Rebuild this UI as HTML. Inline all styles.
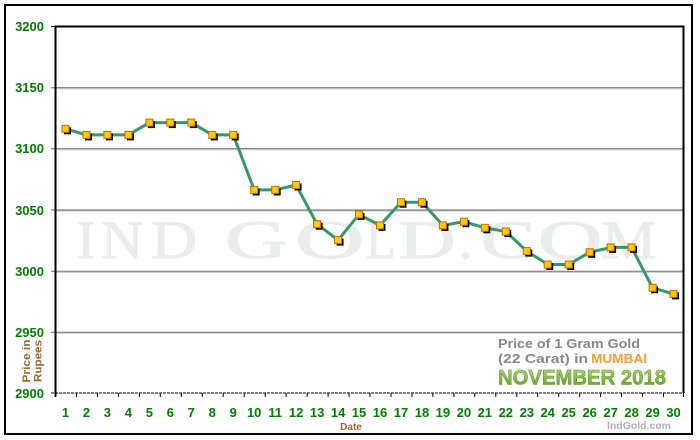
<!DOCTYPE html>
<html><head><meta charset="utf-8"><style>
html,body{margin:0;padding:0;background:#fff;}
svg{display:block;}
text{font-family:"Liberation Sans",Arial,sans-serif;}
.wm text{font-family:"Liberation Serif","Times New Roman",serif;}
</style></head><body>
<svg width="700" height="440" viewBox="0 0 700 440" xmlns="http://www.w3.org/2000/svg">
<defs>
<linearGradient id="gg" x1="0" y1="0" x2="0" y2="1">
<stop offset="0" stop-color="#b5dc78"/>
<stop offset="0.5" stop-color="#86bb45"/>
<stop offset="1" stop-color="#5e9a2a"/>
</linearGradient>
</defs>
<rect x="0" y="0" width="700" height="440" fill="#fff"/>
<rect x="5" y="5" width="687" height="429" fill="#fff" stroke="#000" stroke-width="2"/>

<!-- watermark -->
<g class="wm" fill="#e9ede9" stroke="#e9ede9" stroke-width="1" font-size="54">
<text transform="translate(77,258) scale(1,1)">I</text>
<text transform="translate(101,258) scale(1.08,1)">N</text>
<text transform="translate(151,258) scale(1.18,1)">D</text>
<text transform="translate(225,258) scale(1.6,1)">G</text>
<text transform="translate(295,258) scale(1.78,1)">O</text>
<text transform="translate(366,258) scale(0.9,1)">L</text>
<text transform="translate(399,258) scale(1.45,1)">D</text>
<text transform="translate(459,258) scale(1,1)">.</text>
<text transform="translate(481,258) scale(1.5,1)">C</text>
<text transform="translate(538,258) scale(1.65,1)">O</text>
<text transform="translate(602,258) scale(1.13,1)">M</text>
</g>

<!-- gridlines -->
<g>
<line x1="51" y1="87.7" x2="684" y2="87.7" stroke="#666" stroke-width="1"/>
<line x1="55" y1="88.7" x2="684" y2="88.7" stroke="#c4c4c4" stroke-width="1"/>
<line x1="51" y1="148.8" x2="684" y2="148.8" stroke="#666" stroke-width="1"/>
<line x1="55" y1="149.8" x2="684" y2="149.8" stroke="#c4c4c4" stroke-width="1"/>
<line x1="51" y1="210" x2="684" y2="210" stroke="#666" stroke-width="1"/>
<line x1="55" y1="211" x2="684" y2="211" stroke="#c4c4c4" stroke-width="1"/>
<line x1="51" y1="271.2" x2="684" y2="271.2" stroke="#666" stroke-width="1"/>
<line x1="55" y1="272.2" x2="684" y2="272.2" stroke="#c4c4c4" stroke-width="1"/>
<line x1="51" y1="332.3" x2="684" y2="332.3" stroke="#666" stroke-width="1"/>
<line x1="55" y1="333.3" x2="684" y2="333.3" stroke="#c4c4c4" stroke-width="1"/>
<line x1="51" y1="393" x2="684" y2="393" stroke="#000" stroke-width="1" stroke-dasharray="3,1"/>
<line x1="51" y1="26.5" x2="55" y2="26.5" stroke="#000" stroke-width="1"/>
</g>
<!-- frame -->
<line x1="55" y1="26.5" x2="684" y2="26.5" stroke="#000" stroke-width="2"/>
<line x1="55.5" y1="25.5" x2="55.5" y2="397" stroke="#000" stroke-width="2"/>
<line x1="683.5" y1="25.5" x2="683.5" y2="393" stroke="#000" stroke-width="2"/>

<!-- x ticks -->
<g stroke="#000" stroke-width="1">
<line x1="76.5" y1="393" x2="76.5" y2="397"/><line x1="97.4" y1="393" x2="97.4" y2="397"/><line x1="118.4" y1="393" x2="118.4" y2="397"/><line x1="139.4" y1="393" x2="139.4" y2="397"/><line x1="160.3" y1="393" x2="160.3" y2="397"/><line x1="181.3" y1="393" x2="181.3" y2="397"/><line x1="202.3" y1="393" x2="202.3" y2="397"/><line x1="223.2" y1="393" x2="223.2" y2="397"/><line x1="244.2" y1="393" x2="244.2" y2="397"/><line x1="265.2" y1="393" x2="265.2" y2="397"/><line x1="286.1" y1="393" x2="286.1" y2="397"/><line x1="307.1" y1="393" x2="307.1" y2="397"/><line x1="328.1" y1="393" x2="328.1" y2="397"/><line x1="349" y1="393" x2="349" y2="397"/><line x1="370" y1="393" x2="370" y2="397"/><line x1="391" y1="393" x2="391" y2="397"/><line x1="412" y1="393" x2="412" y2="397"/><line x1="432.9" y1="393" x2="432.9" y2="397"/><line x1="453.9" y1="393" x2="453.9" y2="397"/><line x1="474.8" y1="393" x2="474.8" y2="397"/><line x1="495.8" y1="393" x2="495.8" y2="397"/><line x1="516.8" y1="393" x2="516.8" y2="397"/><line x1="537.7" y1="393" x2="537.7" y2="397"/><line x1="558.7" y1="393" x2="558.7" y2="397"/><line x1="579.7" y1="393" x2="579.7" y2="397"/><line x1="600.6" y1="393" x2="600.6" y2="397"/><line x1="621.6" y1="393" x2="621.6" y2="397"/><line x1="642.6" y1="393" x2="642.6" y2="397"/><line x1="663.5" y1="393" x2="663.5" y2="397"/><line x1="683.5" y1="393" x2="683.5" y2="397"/>
</g>

<!-- y labels -->
<g fill="#008000" font-size="13" font-weight="bold" text-anchor="end">
<text x="44" y="31">3200</text>
<text x="44" y="92">3150</text>
<text x="44" y="153">3100</text>
<text x="44" y="215">3050</text>
<text x="44" y="276">3000</text>
<text x="44" y="337">2950</text>
<text x="44" y="398">2900</text>
</g>

<!-- x labels -->
<g fill="#008000" font-size="13" font-weight="bold" text-anchor="middle">
<text x="65.5" y="417">1</text><text x="86.5" y="417">2</text><text x="107.4" y="417">3</text><text x="128.4" y="417">4</text><text x="149.4" y="417">5</text><text x="170.3" y="417">6</text><text x="191.3" y="417">7</text><text x="212.3" y="417">8</text><text x="233.2" y="417">9</text><text x="254.2" y="417">10</text><text x="275.2" y="417">11</text><text x="296.1" y="417">12</text><text x="317.1" y="417">13</text><text x="338.1" y="417">14</text><text x="359" y="417">15</text><text x="380" y="417">16</text><text x="401" y="417">17</text><text x="422" y="417">18</text><text x="442.9" y="417">19</text><text x="463.9" y="417">20</text><text x="484.8" y="417">21</text><text x="505.8" y="417">22</text><text x="526.8" y="417">23</text><text x="547.7" y="417">24</text><text x="568.7" y="417">25</text><text x="589.7" y="417">26</text><text x="610.6" y="417">27</text><text x="631.6" y="417">28</text><text x="652.6" y="417">29</text><text x="673.5" y="417">30</text>
</g>

<text x="351" y="430" fill="#996633" font-size="10" font-weight="bold" text-anchor="middle">Date</text>
<g fill="#996633" font-size="11" font-weight="bold" text-anchor="middle">
<text transform="translate(30,361) rotate(-90)" textLength="43" lengthAdjust="spacingAndGlyphs">Price in</text>
<text transform="translate(41.5,361) rotate(-90)" textLength="42" lengthAdjust="spacingAndGlyphs">Rupees</text>
</g>

<!-- legend -->
<text x="498" y="348" fill="#888" font-size="13" font-weight="bold" textLength="142" lengthAdjust="spacingAndGlyphs">Price of 1 Gram Gold</text>
<text x="498" y="363" fill="#888" font-size="13" font-weight="bold" textLength="90" lengthAdjust="spacingAndGlyphs">(22 Carat) in</text>
<text x="591" y="363" fill="#ff9933" font-size="13" font-weight="bold" textLength="56" lengthAdjust="spacingAndGlyphs">MUMBAI</text>
<text x="498" y="384.5" fill="url(#gg)" stroke="#5a8f2a" stroke-width="0.5" font-size="21" font-weight="bold" textLength="168" lengthAdjust="spacingAndGlyphs">NOVEMBER 2018</text>
<text x="607" y="429" fill="#b0b0b0" font-size="10" font-weight="bold" textLength="64" lengthAdjust="spacingAndGlyphs">IndGold.com</text>

<!-- series line -->
<polyline fill="none" stroke="#339966" stroke-width="3" stroke-linejoin="round" points="65.5,128.8 86.5,134.9 107.4,134.9 128.4,134.9 149.4,122.6 170.3,122.6 191.3,122.6 212.3,134.9 233.2,134.9 254.2,189.9 275.2,189.9 296.1,185 317.1,224.2 338.1,240.1 359,214.4 380,225.4 401,202.2 422,202.2 442.9,225.4 463.9,221.7 484.8,227.8 505.8,231.5 526.8,251.1 547.7,264.5 568.7,264.5 589.7,252.3 610.6,247.4 631.6,247.4 652.6,287.8 673.5,293.9"/>

<!-- markers -->
<g>
<g fill="#000">
<rect x="64" y="127.3" width="7" height="7"/><rect x="85" y="133.4" width="7" height="7"/><rect x="105.9" y="133.4" width="7" height="7"/><rect x="126.9" y="133.4" width="7" height="7"/><rect x="147.9" y="121.1" width="7" height="7"/><rect x="168.8" y="121.1" width="7" height="7"/><rect x="189.8" y="121.1" width="7" height="7"/><rect x="210.8" y="133.4" width="7" height="7"/><rect x="231.7" y="133.4" width="7" height="7"/><rect x="252.7" y="188.4" width="7" height="7"/><rect x="273.7" y="188.4" width="7" height="7"/><rect x="294.6" y="183.5" width="7" height="7"/><rect x="315.6" y="222.7" width="7" height="7"/><rect x="336.6" y="238.6" width="7" height="7"/><rect x="357.5" y="212.9" width="7" height="7"/><rect x="378.5" y="223.9" width="7" height="7"/><rect x="399.5" y="200.7" width="7" height="7"/><rect x="420.5" y="200.7" width="7" height="7"/><rect x="441.4" y="223.9" width="7" height="7"/><rect x="462.4" y="220.2" width="7" height="7"/><rect x="483.3" y="226.3" width="7" height="7"/><rect x="504.3" y="230" width="7" height="7"/><rect x="525.3" y="249.6" width="7" height="7"/><rect x="546.2" y="263" width="7" height="7"/><rect x="567.2" y="263" width="7" height="7"/><rect x="588.2" y="250.8" width="7" height="7"/><rect x="609.1" y="245.9" width="7" height="7"/><rect x="630.1" y="245.9" width="7" height="7"/><rect x="651.1" y="286.3" width="7" height="7"/><rect x="672" y="292.4" width="7" height="7"/>
</g>
<g fill="#ffcc00" stroke="#cc6600" stroke-width="1">
<rect x="62" y="125.3" width="7" height="7"/><rect x="83" y="131.4" width="7" height="7"/><rect x="103.9" y="131.4" width="7" height="7"/><rect x="124.9" y="131.4" width="7" height="7"/><rect x="145.9" y="119.1" width="7" height="7"/><rect x="166.8" y="119.1" width="7" height="7"/><rect x="187.8" y="119.1" width="7" height="7"/><rect x="208.8" y="131.4" width="7" height="7"/><rect x="229.7" y="131.4" width="7" height="7"/><rect x="250.7" y="186.4" width="7" height="7"/><rect x="271.7" y="186.4" width="7" height="7"/><rect x="292.6" y="181.5" width="7" height="7"/><rect x="313.6" y="220.7" width="7" height="7"/><rect x="334.6" y="236.6" width="7" height="7"/><rect x="355.5" y="210.9" width="7" height="7"/><rect x="376.5" y="221.9" width="7" height="7"/><rect x="397.5" y="198.7" width="7" height="7"/><rect x="418.5" y="198.7" width="7" height="7"/><rect x="439.4" y="221.9" width="7" height="7"/><rect x="460.4" y="218.2" width="7" height="7"/><rect x="481.3" y="224.3" width="7" height="7"/><rect x="502.3" y="228" width="7" height="7"/><rect x="523.3" y="247.6" width="7" height="7"/><rect x="544.2" y="261" width="7" height="7"/><rect x="565.2" y="261" width="7" height="7"/><rect x="586.2" y="248.8" width="7" height="7"/><rect x="607.1" y="243.9" width="7" height="7"/><rect x="628.1" y="243.9" width="7" height="7"/><rect x="649.1" y="284.3" width="7" height="7"/><rect x="670" y="290.4" width="7" height="7"/>
</g>
</g>
</svg>
</body></html>
